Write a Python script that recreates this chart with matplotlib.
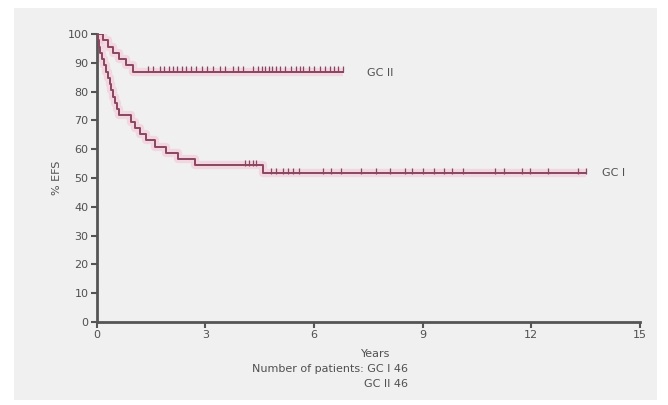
import matplotlib
matplotlib.use("Agg")
import matplotlib.pyplot as plt
import numpy as np

# GC I: event times (years) and censor times
gc1_event_times = [0.04, 0.07, 0.1, 0.13, 0.2, 0.25, 0.3, 0.35, 0.4, 0.45, 0.5, 0.55, 0.62,
                   0.95, 1.05, 1.2, 1.35, 1.6, 1.9, 2.25, 2.7, 4.58]
gc1_censor_times = [4.1, 4.2, 4.3, 4.4,
                    4.8, 4.94, 5.14, 5.28, 5.42, 5.58, 6.25, 6.47, 6.75, 7.3, 7.7,
                    8.1, 8.5, 8.7, 9.0, 9.3, 9.6, 9.8, 10.1, 11.0, 11.25, 11.75, 11.95,
                    12.45, 13.3, 13.5]
gc1_n = 46

# GC II
gc2_event_times = [0.17, 0.3, 0.45, 0.6, 0.8, 1.0]
gc2_censor_times = [1.4, 1.55, 1.75, 1.85, 2.0, 2.1, 2.2, 2.35, 2.45, 2.6, 2.75, 2.9, 3.05,
                    3.2, 3.4, 3.55, 3.75, 3.9, 4.05, 4.3, 4.45, 4.55, 4.65, 4.75, 4.85,
                    4.95, 5.05, 5.2, 5.35, 5.5, 5.6, 5.7, 5.85, 6.0, 6.15, 6.3, 6.45,
                    6.55, 6.65, 6.8]
gc2_n = 46

x_ticks = [0, 3, 6, 9, 12, 15]
y_ticks = [0, 10, 20, 30, 40, 50, 60, 70, 80, 90, 100]


def km(events, censors, n):
    recs = sorted([(t, 1) for t in events] + [(t, 0) for t in censors])
    at_risk = n
    s = 100.0
    xs, ys = [0.0], [100.0]
    cx, cy = [], []
    for t, e in recs:
        if e:
            xs.append(t); ys.append(s)
            s = s * (at_risk - 1) / at_risk
            xs.append(t); ys.append(s)
        else:
            cx.append(t); cy.append(s)
        at_risk -= 1
    xs.append(recs[-1][0]); ys.append(s)
    return xs, ys, cx, cy


fig = plt.figure(figsize=(6.68, 4.05), dpi=100)
fig.patch.set_facecolor("white")
bg = plt.Rectangle((0.021, 0.012), 0.962, 0.968, transform=fig.transFigure,
                   facecolor="#f0f0f0", edgecolor="none", zorder=-10)
fig.patches.append(bg)

ax = fig.add_axes([0.145, 0.205, 0.813, 0.711])
ax.set_facecolor("#f0f0f0")

line_c = "#8a4660"
halo_c = "#f5bfd2"
for ev, ce, n in [(gc1_event_times, gc1_censor_times, gc1_n),
                  (gc2_event_times, gc2_censor_times, gc2_n)]:
    xs, ys, cx, cy = km(ev, ce, n)
    ax.plot(xs, ys, color=halo_c, lw=6, alpha=0.5, solid_capstyle="butt", zorder=2)
    ax.plot(xs, ys, color=line_c, lw=1.4, zorder=3)
    ax.plot(cx, [v + 0.8 for v in cy], linestyle="none", marker="|", ms=5, mew=0.9,
            color=line_c, zorder=4)

ax.set_xlim(0, 15)
ax.set_ylim(0, 100)
ax.set_xticks(x_ticks)
ax.set_yticks(y_ticks)
for s in ["top", "right"]:
    ax.spines[s].set_visible(False)
for s in ["left", "bottom"]:
    ax.spines[s].set_color("#555555")
    ax.spines[s].set_linewidth(2)
ax.tick_params(direction="out", length=4, width=1.5, color="#555555",
               labelsize=8, labelcolor="#505050", pad=2)

ax.text(7.45, 86.5, "GC II", fontsize=8, color="#505050", va="center")
ax.text(13.95, 51.6, "GC I", fontsize=8, color="#505050", va="center")

ax.set_ylabel("% EFS", fontsize=8, color="#505050", labelpad=4)
fig.text(0.562, 0.118, "Years", fontsize=8, color="#505050", ha="center")
fig.text(0.611, 0.082, "Number of patients: GC I 46", fontsize=8, color="#505050", ha="right")
fig.text(0.611, 0.045, "GC II 46", fontsize=8, color="#505050", ha="right")

fig.savefig("out.png", dpi=100, facecolor=fig.get_facecolor())
